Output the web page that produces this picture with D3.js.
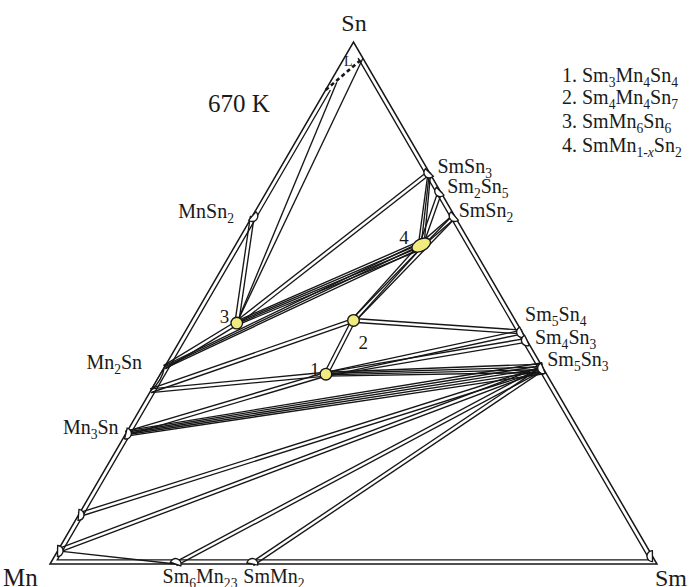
<!DOCTYPE html>
<html>
<head>
<meta charset="utf-8">
<script src="https://cdn.jsdelivr.net/npm/d3@7"></script>
<style>
  html, body { margin: 0; padding: 0; background: #fff; }
  svg { display: block; }
  text { font-family: "Liberation Serif", "DejaVu Serif", serif; fill: #1a1a1a; }
</style>
</head>
<body>
<svg id="chart" width="694" height="587"></svg>
<script>
// Sm–Mn–Sn isothermal section at 670 K. Compositions are atomic fractions [Mn, Sm, Sn].
const corners = [
  { name: "Mn", c: [1, 0, 0] },
  { name: "Sm", c: [0, 1, 0] },
  { name: "Sn", c: [0, 0, 1] }
];

// binary compounds sitting on the edges
const binaries = [
  { id: "MnSn2",   c: [1/3, 0, 2/3] },
  { id: "Mn3Sn",   c: [0.75, 0, 0.25] },
  { id: "MnB",     c: [0.906, 0, 0.094] },
  { id: "MnA",     c: [0.975, 0, 0.025] },
  { id: "SmSn3",   c: [0, 0.25, 0.75] },
  { id: "Sm2Sn5",  c: [0, 2/7, 5/7] },
  { id: "SmSn2",   c: [0, 1/3, 2/3] },
  { id: "Sm5Sn4",  c: [0, 5/9, 4/9] },
  { id: "Sm4Sn3",  c: [0, 4/7, 3/7] },
  { id: "Sm5Sn3",  c: [0, 5/8, 3/8] },
  { id: "Sm6Mn23", c: [23/29, 6/29, 0] },
  { id: "SmMn2",   c: [2/3, 1/3, 0] },
  { id: "SmSS",    c: [0, 0.985, 0.015] }
];

// Mn2Sn has a homogeneity range along the Mn–Sn edge
const mn2snRange = [
  { id: "Mn2SnHi", c: [0.623, 0, 0.377] },
  { id: "Mn2SnLo", c: [0.668, 0, 0.332] }
];

// ternary compounds
const ternaries = [
  { id: "T1", num: "1", c: [4/11, 3/11, 4/11] },
  { id: "T2", num: "2", c: [4/15, 4/15, 7/15] },
  { id: "T3", num: "3", c: [6/13, 1/13, 6/13] },
  { id: "T4", num: "4", c: [0.083, 0.306, 0.611] }
];

// liquid boundary near the Sn corner, and the liquid end of the L + SmMn6Sn6 fan
const liquid = [
  { id: "La", c: [0.092, 0, 0.908] },
  { id: "Lm", c: [0.066, 0.011, 0.923] },
  { id: "Lb", c: [0, 0.031, 0.969] }
];

// two-phase fields: [phase, phase, number of boundary lines]
const ties = [
  ["T3", "Lm", 1], ["T3", "Lb", 1], ["T3", "MnSn2", 2], ["T3", "SmSn3", 2],
  ["T4", "T3", 4], ["T3", "Mn2SnHi", 2],
  ["T4", "SmSn3", 3], ["T4", "Sm2Sn5", 2], ["T4", "SmSn2", 2], ["T4", "T2", 2], ["T4", "Mn2SnHi", 3],
  ["T2", "SmSn2", 2], ["T2", "Sm5Sn4", 2], ["T2", "T1", 2], ["T2", "Mn2SnLo", 2],
  ["T1", "Sm5Sn4", 2], ["T1", "Sm4Sn3", 2], ["Sm5Sn3", "T1", 4], ["T1", "Mn2SnLo", 2], ["T1", "Mn3Sn", 2],
  ["Sm5Sn3", "Mn3Sn", 5], ["MnB", "Sm5Sn3", 2], ["MnA", "Sm5Sn3", 2],
  ["MnA", "Sm6Mn23", 1], ["Sm6Mn23", "Sm5Sn3", 2], ["SmMn2", "Sm5Sn3", 2]
];

const legendRows = [
  { n: "1. ", parts: [["Sm"], ["3", 1], ["Mn"], ["4", 1], ["Sn"], ["4", 1]] },
  { n: "2. ", parts: [["Sm"], ["4", 1], ["Mn"], ["4", 1], ["Sn"], ["7", 1]] },
  { n: "3. ", parts: [["SmMn"], ["6", 1], ["Sn"], ["6", 1]] },
  { n: "4. ", parts: [["SmMn"], ["1-", 1], ["x", 2], ["Sn"], ["2", 1]] }
];

const phaseLabels = [
  { id: "SmSn3",   parts: [["SmSn"], ["3", 1]],                  dx: 8,   dy: 0 },
  { id: "Sm2Sn5",  parts: [["Sm"], ["2", 1], ["Sn"], ["5", 1]],  dx: 7,   dy: 2 },
  { id: "SmSn2",   parts: [["SmSn"], ["2", 1]],                  dx: 4,   dy: 1 },
  { id: "Sm5Sn4",  parts: [["Sm"], ["5", 1], ["Sn"], ["4", 1]],  dx: 3,   dy: -11 },
  { id: "Sm4Sn3",  parts: [["Sm"], ["4", 1], ["Sn"], ["3", 1]],  dx: 8,   dy: 4 },
  { id: "Sm5Sn3",  parts: [["Sm"], ["5", 1], ["Sn"], ["3", 1]],  dx: 4,   dy: -2 },
  { id: "MnSn2",   parts: [["MnSn"], ["2", 1]],                  dx: -74, dy: 2 },
  { id: "Mn2SnHi", parts: [["Mn"], ["2", 1], ["Sn"]],            dx: -78, dy: 2 },
  { id: "Mn3Sn",   parts: [["Mn"], ["3", 1], ["Sn"]],            dx: -63, dy: 0 },
  { id: "Sm6Mn23", parts: [["Sm"], ["6", 1], ["Mn"], ["23", 1]], dx: -13, dy: 19 },
  { id: "SmMn2",   parts: [["SmMn"], ["2", 1]],                  dx: -9,  dy: 19 }
];

const svg = d3.select("#chart");

// ternary projection: horizontal position from Sm + Sn/2, height from Sn
const xs = d3.scaleLinear().domain([0, 1]).range([50, 657]);
const ys = d3.scaleLinear().domain([0, 1]).range([564, 42]);
const P = c => [xs(c[1] + c[2] / 2), ys(c[2])];

const lookup = {};
[...binaries, ...mn2snRange, ...ternaries, ...liquid].forEach(p => lookup[p.id] = p);
corners.forEach(p => lookup[p.name] = p);

const ink = "#161616";
const sw = 1.35;
const line = d3.line();

// outer triangle
const tri = corners.map(k => P(k.c));
svg.append("path")
  .attr("d", line(tri) + "Z")
  .attr("fill", "none").attr("stroke", ink).attr("stroke-width", 1.5)
  .attr("stroke-linejoin", "miter");

// inner edge lines: thin strips along each binary edge
const cen = [d3.mean(tri, d => d[0]), d3.mean(tri, d => d[1])];
const inr = (tri[1][0] - tri[0][0]) / (2 * Math.sqrt(3));
const k = 1 - 4.2 / inr;
const inner = tri.map(v => [cen[0] + (v[0] - cen[0]) * k, cen[1] + (v[1] - cen[1]) * k]);
// the inner lines stop at the liquid boundary near Sn
const pa = P(lookup.La.c), pb = P(lookup.Lb.c);
const tcut = (pa[1] - inner[2][1]) / (inner[0][1] - inner[2][1]);
const innerLeftTop = [inner[2][0] + (inner[0][0] - inner[2][0]) * tcut, pa[1]];
const tcut2 = (pb[1] - inner[2][1]) / (inner[1][1] - inner[2][1]);
const innerRightTop = [inner[2][0] + (inner[1][0] - inner[2][0]) * tcut2, pb[1]];
svg.append("path")
  .attr("d", line([innerLeftTop, inner[0], inner[1], innerRightTop]))
  .attr("fill", "none").attr("stroke", ink).attr("stroke-width", sw);

// liquid boundary (dashed)
svg.append("path")
  .attr("d", line([pa, pb]))
  .attr("stroke", ink).attr("stroke-width", 2.6)
  .attr("stroke-dasharray", "4,3");

// two-phase strips; wider fans open up toward the first phase
const gTies = svg.append("g").attr("stroke", ink).attr("stroke-width", sw).attr("fill", "none");
ties.forEach(([a, b, n]) => {
  const p1 = P(lookup[a].c), p2 = P(lookup[b].c);
  const dx = p2[0] - p1[0], dy = p2[1] - p1[1];
  const L = Math.hypot(dx, dy);
  const nx = -dy / L, ny = dx / L;
  const s1 = n > 2 ? 2.8 : 3.8, s2 = n > 2 ? 1.3 : 3.8;
  d3.range(n).forEach(i => {
    const f = i - (n - 1) / 2;
    gTies.append("line")
      .attr("x1", p1[0] + f * s1 * nx).attr("y1", p1[1] + f * s1 * ny)
      .attr("x2", p2[0] + f * s2 * nx).attr("y2", p2[1] + f * s2 * ny);
  });
});

// inward unit normal of the edge a binary phase sits on
function edgeNormal(c) {
  const p = P(c);
  const zero = c.findIndex(v => v < 1e-9);
  const opp = tri[zero];
  const dx = opp[0] - p[0], dy = opp[1] - p[1];
  const L = Math.hypot(dx, dy);
  return [dx / L, dy / L];
}

// binary phases: small half-discs opening onto the edge
const gBin = svg.append("g");
binaries.forEach(b => {
  const p = P(b.c);
  const n = edgeNormal(b.c);
  const ang = Math.atan2(n[1], n[0]) * 180 / Math.PI;
  const r = 5.5;
  gBin.append("path")
    .attr("transform", `translate(${p[0]},${p[1]}) rotate(${ang})`)
    .attr("d", `M0,${-r} A${r},${r} 0 0 1 0,${r} Z`)
    .attr("fill", "#fff").attr("stroke", ink).attr("stroke-width", sw);
});

// Mn2Sn homogeneity range: a lens along the edge
{
  const h = P(lookup.Mn2SnHi.c), l = P(lookup.Mn2SnLo.c);
  const n = edgeNormal(lookup.Mn2SnHi.c);
  const m = [(h[0] + l[0]) / 2 + n[0] * 5, (h[1] + l[1]) / 2 + n[1] * 5];
  gBin.append("path")
    .attr("d", `M${h[0]},${h[1]} Q${m[0]},${m[1]} ${l[0]},${l[1]} Z`)
    .attr("fill", "#fff").attr("stroke", ink).attr("stroke-width", sw);
}

// ternary phases
const yellow = "#f1ec80";
const gTer = svg.append("g");
ternaries.forEach(t => {
  const p = P(t.c);
  if (t.id === "T4") {
    gTer.append("ellipse")
      .attr("cx", p[0]).attr("cy", p[1]).attr("rx", 10).attr("ry", 6)
      .attr("transform", `rotate(-27,${p[0]},${p[1]})`)
      .attr("fill", yellow).attr("stroke", ink).attr("stroke-width", sw);
  } else {
    gTer.append("circle")
      .attr("cx", p[0]).attr("cy", p[1]).attr("r", 5.8)
      .attr("fill", yellow).attr("stroke", ink).attr("stroke-width", sw);
  }
});

// text with subscripts
function richText(x, y, parts, size) {
  const t = svg.append("text").attr("x", x).attr("y", y).attr("font-size", size);
  let down = false;
  parts.forEach(([s, kind]) => {
    const sp = t.append("tspan").text(s);
    if (kind === 1 || kind === 2) {
      sp.attr("font-size", size * 0.68);
      if (!down) { sp.attr("dy", size * 0.26); down = true; }
      if (kind === 2) sp.attr("font-style", "italic");
    } else if (down) {
      sp.attr("dy", -size * 0.26); down = false;
    }
  });
  return t;
}

// corner labels
svg.append("text").attr("x", 354).attr("y", 31).attr("text-anchor", "middle")
  .attr("font-size", 24).text("Sn");
svg.append("text").attr("x", 3).attr("y", 586).attr("font-size", 25).text("Mn");
svg.append("text").attr("x", 655).attr("y", 586).attr("font-size", 24).text("Sm");

svg.append("text").attr("x", 208).attr("y", 112).attr("font-size", 25).text("670 K");
svg.append("text").attr("x", 344).attr("y", 66).attr("font-size", 14).text("L");

// phase labels
phaseLabels.forEach(l => {
  const p = P(lookup[l.id].c);
  richText(p[0] + l.dx, p[1] + l.dy, l.parts, 20);
});

// ternary numbers
const numOff = { T1: [-16, 2], T2: [5, 29], T3: [-17, 0], T4: [-22, -1] };
ternaries.forEach(t => {
  const p = P(t.c);
  svg.append("text").attr("x", p[0] + numOff[t.id][0]).attr("y", p[1] + numOff[t.id][1])
    .attr("font-size", 19).text(t.num);
});

// legend
const legendY = [82, 104, 128, 152];
legendRows.forEach((r, i) => {
  richText(562, legendY[i], [[r.n], ...r.parts], 20);
});
</script>
</body>
</html>
